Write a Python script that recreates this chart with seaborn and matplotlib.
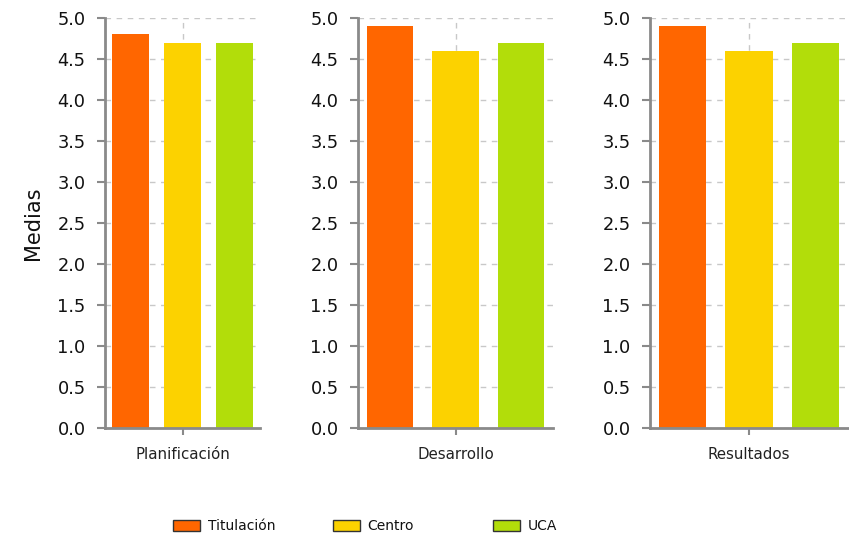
import matplotlib
matplotlib.use("Agg")
import matplotlib.pyplot as plt
import seaborn as sns
import pandas as pd
from matplotlib.patches import Patch
from matplotlib.ticker import FormatStrFormatter

categories = ["Planificación", "Desarrollo", "Resultados"]
series = ["Titulación", "Centro", "UCA"]
titulacion = [4.8, 4.9, 4.9]
centro = [4.7, 4.6, 4.6]
uca = [4.7, 4.7, 4.7]
colors = ["#FF6600", "#FCD200", "#B2DD0A"]
yticks = [0.0, 0.5, 1.0, 1.5, 2.0, 2.5, 3.0, 3.5, 4.0, 4.5, 5.0]

sns.set_theme(style="white")
plt.rcParams["font.family"] = ["DejaVu Sans"]

rows = []
for i, c in enumerate(categories):
    for s, vals in zip(series, [titulacion, centro, uca]):
        rows.append({"cat": c, "serie": s, "valor": vals[i]})
df = pd.DataFrame(rows)

fig = plt.figure(figsize=(8.49, 5.38), dpi=100)
bottom = 110 / 538
height = 410 / 538
panels = [(105, 155), (358, 195), (650, 198)]
gray = "#8a8a8a"

for (left, width), cat in zip(panels, categories):
    ax = fig.add_axes([left / 849, bottom, width / 849, height])
    sub = df[df["cat"] == cat]
    sns.barplot(data=sub, x="serie", y="valor", hue="serie", order=series,
                hue_order=series, palette=colors, width=0.71, legend=False,
                ax=ax, saturation=1, zorder=3, linewidth=0)
    ax.set_xlim(-0.49, 2.49)
    ax.set_ylim(0, 5.0)
    ax.set_yticks(yticks)
    ax.yaxis.set_major_formatter(FormatStrFormatter("%.1f"))
    ax.set_xticks([1])
    ax.set_xticklabels([cat], fontsize=10.8, color="#222222")
    ax.set_xlabel("")
    ax.set_ylabel("")
    for sp in ["top", "right"]:
        ax.spines[sp].set_visible(False)
    ax.spines["left"].set_color(gray)
    ax.spines["left"].set_linewidth(2)
    ax.spines["bottom"].set_color(gray)
    ax.spines["bottom"].set_linewidth(2)
    ax.spines["bottom"].set_zorder(4)
    ax.tick_params(axis="y", which="major", length=6, width=1.5, color=gray,
                   pad=8, labelsize=12.8, labelcolor="#111111", left=True)
    ax.tick_params(axis="x", which="major", length=5, width=1.5, color=gray,
                   pad=9, bottom=True)
    ax.grid(True, axis="both", color="#c8c8c8", linestyle=(0, (4, 4)),
            linewidth=1, zorder=0)
    ax.set_axisbelow(True)

fig.text(33 / 849, 1 - 223 / 538, "Medias", rotation=90, ha="center",
         va="center", fontsize=15, color="#111111")

for s, col, xpx in zip(series, colors, [173, 333, 493]):
    h = Patch(facecolor=col, edgecolor="#333333", linewidth=1, label=s)
    fig.legend(handles=[h], loc="center left",
               bbox_to_anchor=(xpx / 849, 1 - 526 / 538), frameon=False,
               borderpad=0, borderaxespad=0, handlelength=1.95,
               handleheight=0.86, handletextpad=0.55, fontsize=10,
               labelcolor="#111111")

fig.savefig("out.png", dpi=100)
